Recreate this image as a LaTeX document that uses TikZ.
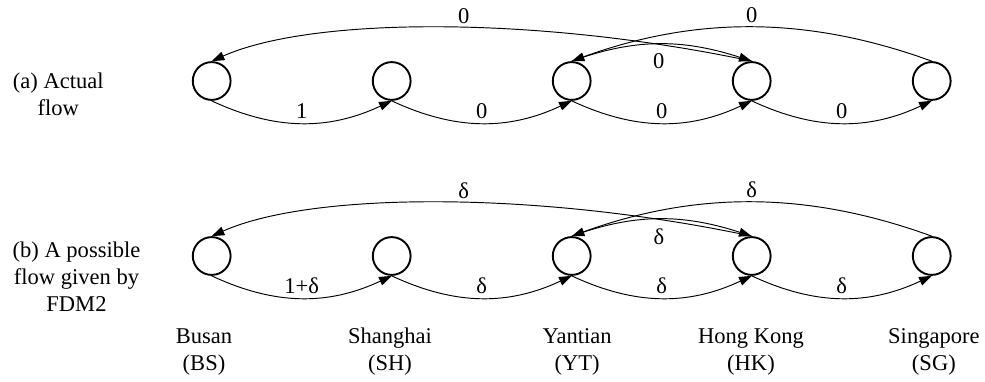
\documentclass[tikz,border=0pt]{standalone}
\usepackage{fontspec}
\setmainfont{Liberation Serif}
\usetikzlibrary{arrows.meta}

\tikzset{
  port/.style={circle, draw, line width=1.5pt, minimum size=1.05cm, inner sep=0pt},
  route/.style={line width=0.75pt, -{Triangle[length=10pt,width=7pt]}},
  amount/.style={inner sep=3pt},
}

\begin{document}
\begin{tikzpicture}[font=\fontsize{17.8}{21.3}\selectfont]
			%%%%% FRAME %%%%%
			\useasboundingbox (0,0) rectangle (27.36,10.583);
			
			%%%%% (a) ACTUAL FLOW %%%%%
			\node[align=center] (capa) at (1.62,7.958) {(a) Actual\\flow};
			
			\node[port] (bsa) at (5.88,8.333) {};
			\node[port] (sha) at (10.88,8.333) {};
			\node[port] (yta) at (15.88,8.333) {};
			\node[port] (hka) at (20.88,8.333) {};
			\node[port] (sga) at (25.88,8.333) {};
			
			\draw[route] (bsa.south) to[out=-25,in=-155] node[amount,above] {1} (sha.south);
			\draw[route] (sha.south) to[out=-25,in=-155] node[amount,above] {0} (yta.south);
			\draw[route] (yta.south) to[out=-25,in=-155] node[amount,above] {0} (hka.south);
			\draw[route] (hka.south) to[out=-25,in=-155] node[amount,above] {0} (sga.south);
			
			\draw[route] (hka.north) to[out=168,in=24,out distance=6cm,in distance=3.08cm] node[amount,above,pos=0.46] {0} (bsa.north);
			\draw[route] (sga.north) to[out=160,in=20,distance=3.67cm] node[amount,above] {0} (yta.north);
			\draw[route] (yta.north) to[out=20,in=162,out distance=1.84cm,in distance=2.04cm] node[amount,below=4pt] {0} (hka.north);
			
			%%%%% (b) FLOW FROM FDM2 %%%%%
			\node[align=center] (capb) at (2.125,2.889) {(b) A possible\\flow given by\\FDM2};
			
			\node[port] (bsb) at (5.88,3.472) {};
			\node[port] (shb) at (10.88,3.472) {};
			\node[port] (ytb) at (15.88,3.472) {};
			\node[port] (hkb) at (20.88,3.472) {};
			\node[port] (sgb) at (25.88,3.472) {};
			
			\draw[route] (bsb.south) to[out=-25,in=-155] node[amount,above] {1+δ} (shb.south);
			\draw[route] (shb.south) to[out=-25,in=-155] node[amount,above] {δ} (ytb.south);
			\draw[route] (ytb.south) to[out=-25,in=-155] node[amount,above] {δ} (hkb.south);
			\draw[route] (hkb.south) to[out=-25,in=-155] node[amount,above] {δ} (sgb.south);
			
			\draw[route] (hkb.north) to[out=168,in=24,out distance=6cm,in distance=3.08cm] node[amount,above,pos=0.46] {δ} (bsb.north);
			\draw[route] (sgb.north) to[out=160,in=20,distance=3.67cm] node[amount,above] {δ} (ytb.north);
			\draw[route] (ytb.north) to[out=20,in=162,out distance=1.84cm,in distance=2.04cm] node[amount,below=4pt] {δ} (hkb.north);
			
			%%%%% PORT NAMES %%%%%
			\node[align=center] (bsname) at (5.667,0.806) {Busan\\(BS)};
			\node[align=center] (shname) at (10.833,0.806) {Shanghai\\(SH)};
			\node[align=center] (ytname) at (16.03,0.806) {Yantian\\(YT)};
			\node[align=center] (hkname) at (20.86,0.806) {Hong Kong\\(HK)};
			\node[align=center] (sgname) at (25.94,0.806) {Singapore\\(SG)};
		\end{tikzpicture}
\end{document}
